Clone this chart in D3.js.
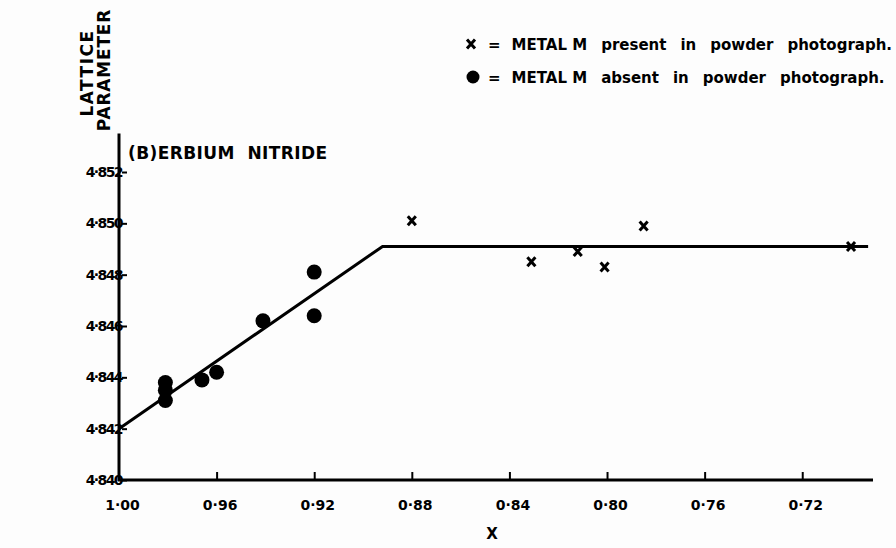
<!DOCTYPE html>
<html>
<head>
<meta charset="utf-8">
<script src="https://cdn.jsdelivr.net/npm/d3@7"></script>
<style>
  html, body { margin: 0; padding: 0; background: #fdfdfd; }
  svg { display: block; }
  text { font-family: "DejaVu Sans", "Liberation Sans", sans-serif; font-weight: bold; fill: #000; }
</style>
</head>
<body>
<svg id="chart" width="896" height="548"></svg>
<script>
// Erbium nitride: lattice parameter against composition x (ErNx)
const xTicks = [1.00, 0.96, 0.92, 0.88, 0.84, 0.80, 0.76, 0.72];
const yTicks = [4.840, 4.842, 4.844, 4.846, 4.848, 4.850, 4.852];

// samples where metal was seen in the powder photograph (crosses)
const presentX = [0.880, 0.831, 0.812, 0.801, 0.785, 0.700];
const presentY = [4.8501, 4.8485, 4.8489, 4.8483, 4.8499, 4.8491];

// samples where no metal was seen (filled circles)
const absentX = [0.981, 0.981, 0.981, 0.966, 0.960, 0.941, 0.920, 0.920];
const absentY = [4.8438, 4.8435, 4.8431, 4.8439, 4.8442, 4.8462, 4.8481, 4.8464];

// fitted line: rising branch, then constant lattice parameter
const fitX = [1.000, 0.892, 0.693];
const fitY = [4.8420, 4.8491, 4.8491];

// legend wording, one entry per word
const legendPresent = ["=", "METAL M", "present", "in", "powder", "photograph."];
const legendAbsent = ["=", "METAL M", "absent", "in", "powder", "photograph."];

const svg = d3.select("#chart");
const x = d3.scaleLinear().domain([1.00, 0.691]).range([119, 873]);
const y = d3.scaleLinear().domain([4.840, 4.852]).range([480, 172]);
const dot = s => s.replace(".", "\u00B7");

// axes
const xAxis = svg.append("g").attr("transform", `translate(0,${y(4.840)})`)
  .call(d3.axisBottom(x).tickValues(xTicks).tickSizeInner(-8).tickSizeOuter(0)
    .tickPadding(20).tickFormat(d => dot(d3.format(".2f")(d))));
const yAxis = svg.append("g").attr("transform", `translate(${x(1.00) + 3},0)`)
  .call(d3.axisLeft(y).tickValues(yTicks).tickSizeInner(-5).tickSizeOuter(0)
    .tickPadding(0).tickFormat(d => dot(d3.format(".3f")(d))));
xAxis.select(".domain").remove();
yAxis.select(".domain").remove();
svg.append("line").attr("x1", x(1.00) - 1).attr("x2", x(0.691))
  .attr("y1", y(4.840)).attr("y2", y(4.840)).attr("stroke", "#000").attr("stroke-width", 3);
svg.append("line").attr("x1", x(1.00)).attr("x2", x(1.00))
  .attr("y1", y(4.840) + 1).attr("y2", y(4.8535)).attr("stroke", "#000").attr("stroke-width", 3);
[xAxis, yAxis].forEach(g => {
  g.selectAll(".tick line").attr("stroke", "#000").attr("stroke-width", 2);
  g.selectAll(".tick text").attr("font-family", "DejaVu Sans Condensed, DejaVu Sans")
    .attr("font-weight", "bold").attr("fill", "#000");
});
xAxis.selectAll(".tick text").attr("font-size", 14).attr("dx", 3);
yAxis.selectAll(".tick text").attr("font-size", 14).attr("letter-spacing", -1.6);
xAxis.select(".tick line").remove();

// fitted line
svg.append("path")
  .datum(fitX.map((v, i) => [v, fitY[i]]))
  .attr("d", d3.line().x(d => x(d[0])).y(d => y(d[1])))
  .attr("fill", "none").attr("stroke", "#000").attr("stroke-width", 3);

// circles
svg.append("g").selectAll("circle")
  .data(absentX.map((v, i) => [v, absentY[i]]))
  .join("circle")
  .attr("cx", d => x(d[0])).attr("cy", d => y(d[1])).attr("r", 7.5).attr("fill", "#000");

// crosses
const crossPath = "M-4,-4.5L4,4.5M4,-4.5L-4,4.5";
svg.append("g").selectAll("path")
  .data(presentX.map((v, i) => [v, presentY[i]]))
  .join("path")
  .attr("transform", d => `translate(${x(d[0])},${y(d[1])})`)
  .attr("d", crossPath)
  .attr("stroke", "#000").attr("stroke-width", 3).attr("fill", "none");

// titles
svg.append("text").attr("x", 128).attr("y", 159).attr("font-size", 17).attr("letter-spacing", 0.4)
  .attr("xml:space", "preserve").text("(B)ERBIUM  NITRIDE");
svg.append("text").attr("x", 492).attr("y", 539).attr("font-size", 15).attr("text-anchor", "middle").text("X");
svg.append("text").attr("transform", "translate(93,73) rotate(-90)").attr("text-anchor", "middle")
  .attr("font-size", 17).attr("letter-spacing", 1.5).text("LATTICE");
svg.append("text").attr("transform", "translate(110,70) rotate(-90)").attr("text-anchor", "middle")
  .attr("font-size", 17).attr("letter-spacing", 0.8).text("PARAMETER");

// legend: words flow left to right with an even gap between them
const legend = svg.append("g").attr("font-size", 15);
function legendRow(words, yBase) {
  legend.append("text").attr("x", 488).attr("y", yBase)
    .selectAll("tspan").data(words).join("tspan")
    .attr("dx", (d, i) => i === 0 ? 0 : (i === 1 ? 11 : 14))
    .text(d => d);
}
legend.append("path").attr("transform", "translate(471,44)").attr("d", crossPath)
  .attr("stroke", "#000").attr("stroke-width", 3);
legendRow(legendPresent, 50);
legend.append("circle").attr("cx", 473).attr("cy", 77).attr("r", 6.5).attr("fill", "#000");
legendRow(legendAbsent, 83);
</script>
</body>
</html>
